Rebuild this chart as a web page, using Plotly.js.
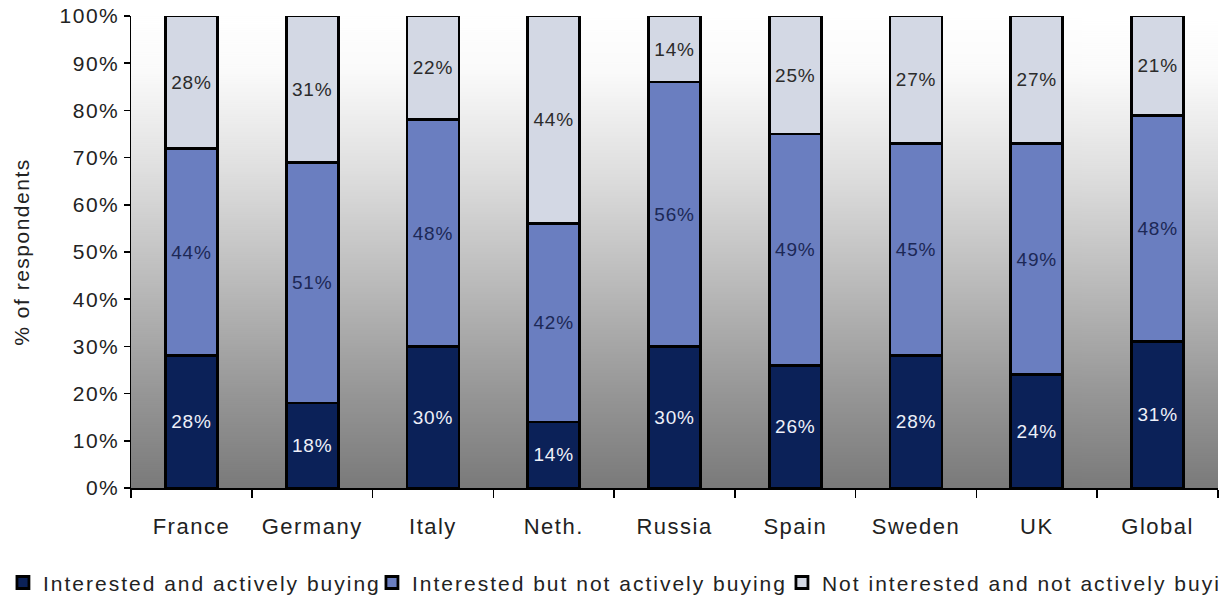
<!DOCTYPE html>
<html>
<head>
<meta charset="utf-8">
<script src="https://cdn.plot.ly/plotly-3.0.1.min.js"></script>
<style>
  html, body { margin: 0; padding: 0; background: #ffffff; }
  #chart { width: 1221px; height: 609px; }
  text.legendtext { letter-spacing: 2px; }
  .xtick text, .ytick text { letter-spacing: 1.5px; }
  .g-ytitle text { letter-spacing: 1.5px; }
  text.bartext { letter-spacing: 0.8px; }
</style>
</head>
<body>
<div id="chart"></div>
<script>
// ---- Data (percent of respondents) ----
var categories = ['France', 'Germany', 'Italy', 'Neth.', 'Russia', 'Spain', 'Sweden', 'UK', 'Global'];
var activelyBuying = [28, 18, 30, 14, 30, 26, 28, 24, 31];
var interestedNotBuying = [44, 51, 48, 42, 56, 49, 45, 49, 48];
var notInterested = [28, 31, 22, 44, 14, 25, 27, 27, 21];
var seriesNames = [
  'Interested and actively buying',
  'Interested but not actively buying',
  'Not interested and not actively buying'
];
var yTickValues = [0, 10, 20, 30, 40, 50, 60, 70, 80, 90, 100];

// ---- Background gradient for the plot area ----
function gradientURL() {
  var c = document.createElement('canvas');
  c.width = 4; c.height = 472;
  var ctx = c.getContext('2d');
  var g = ctx.createLinearGradient(0, 0, 0, 472);
  g.addColorStop(0.00, '#ffffff');
  g.addColorStop(0.12, '#fafafa');
  g.addColorStop(0.32, '#e0e0e0');
  g.addColorStop(0.55, '#bdbdbd');
  g.addColorStop(0.80, '#969696');
  g.addColorStop(1.00, '#7a7a7a');
  ctx.fillStyle = g;
  ctx.fillRect(0, 0, 4, 472);
  return c.toDataURL('image/png');
}

var FONT = 'Arial, "Liberation Sans", sans-serif';
var barLine = { color: '#000000', width: 2.8 };

function makeTrace(values, name, color, textColor, legendW) {
  return {
    type: 'bar',
    x: categories,
    y: values,
    name: name,
    width: 0.43,
    marker: { color: color, line: barLine },
    text: values.map(function (v) { return v + '%'; }),
    textposition: 'inside',
    insidetextanchor: 'middle',
    textangle: 0,
    insidetextfont: { family: FONT, size: 19, color: textColor },
    legendwidth: legendW,
    hoverinfo: 'none'
  };
}

var traces = [
  makeTrace(activelyBuying, seriesNames[0], '#0b2158', '#eef0f8', 324),
  makeTrace(interestedNotBuying, seriesNames[1], '#6a7ec0', '#1c2856', 365),
  makeTrace(notInterested, seriesNames[2], '#d3d8e4', '#2b2b2b', 394)
];

var layout = {
  width: 1221,
  height: 609,
  margin: { l: 131, r: 3, t: 16, b: 121, pad: 0 },
  paper_bgcolor: '#ffffff',
  plot_bgcolor: 'rgba(0,0,0,0)',
  barmode: 'stack',
  font: { family: FONT, color: '#222222' },
  showlegend: true,
  legend: {
    orientation: 'h',
    x: -0.1178,
    xanchor: 'left',
    y: -0.201,
    yanchor: 'middle',
    font: { family: FONT, size: 21, color: '#222222' },
    bgcolor: 'rgba(0,0,0,0)',
    traceorder: 'normal'
  },
  xaxis: {
    type: 'category',
    showline: true,
    linecolor: '#000000',
    linewidth: 1.5,
    ticks: 'outside',
    tickson: 'boundaries',
    ticklen: 8,
    tickcolor: '#000000',
    tickwidth: 1.5,
    ticklabelstandoff: 18,
    tickfont: { family: FONT, size: 22, color: '#222222' },
    showgrid: false,
    automargin: false,
    fixedrange: true
  },
  yaxis: {
    range: [0, 100],
    tickvals: yTickValues,
    ticktext: yTickValues.map(function (v) { return v + '%'; }),
    showline: true,
    linecolor: '#000000',
    linewidth: 1.5,
    ticks: 'outside',
    ticklen: 6,
    tickcolor: '#000000',
    tickwidth: 1.5,
    tickfont: { family: FONT, size: 21, color: '#222222' },
    showgrid: false,
    zeroline: false,
    automargin: false,
    fixedrange: true,
    title: {
      text: '% of respondents',
      font: { family: FONT, size: 21, color: '#222222' },
      standoff: 24
    }
  },
  images: [{
    source: gradientURL(),
    xref: 'paper', yref: 'paper',
    x: 0, y: 1, sizex: 1, sizey: 1,
    xanchor: 'left', yanchor: 'top',
    sizing: 'stretch',
    layer: 'below'
  }]
};

Plotly.newPlot('chart', traces, layout, { staticPlot: true, displayModeBar: false });
</script>
</body>
</html>
